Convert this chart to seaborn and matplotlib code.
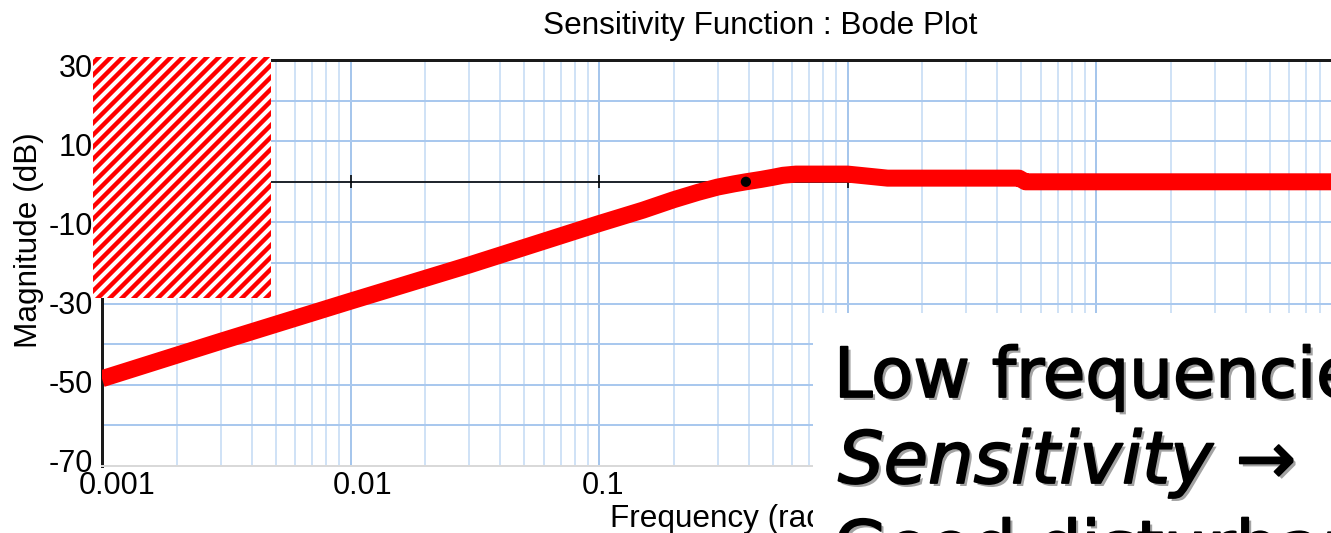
import matplotlib
matplotlib.use("Agg")
import matplotlib.pyplot as plt
import matplotlib.patheffects as pe
from matplotlib.patches import Rectangle
from matplotlib.ticker import FixedLocator, LogLocator, NullFormatter
from matplotlib.transforms import ScaledTranslation
import numpy as np
import pandas as pd
import seaborn as sns

# Sensitivity magnitude |S(jw)| in dB
freq = [0.001, 0.003, 0.01, 0.03, 0.1, 0.15, 0.2, 0.25, 0.3, 0.35, 0.39, 0.45, 0.5,
        0.55, 0.62, 1.0, 1.45, 4.9, 5.2, 100]
mag_db = [-48.5, -39.3, -29.4, -20.5, -10.3, -7.0, -4.4, -2.6, -1.3, -0.5, 0.0, 0.6, 1.1,
          1.6, 1.9, 1.9, 0.9, 0.9, 0.0, 0.0]

# crossover point (|S| = 0 dB)
cross_freq = [0.39]
cross_mag = [0.0]

x_ticks = [0.001, 0.01, 0.1, 1, 10]
x_tick_labels = ["0.001", "0.01", "0.1", "1", "10"]
y_ticks = [30, 10, -10, -30, -50, -70]
y_tick_labels = ["30", "10", "-10", "-30", "-50", "-70"]

sns.set_theme(style="white")
plt.rcParams["font.family"] = ["Liberation Sans", "DejaVu Sans"]
plt.rcParams["hatch.linewidth"] = 4.4

W, H, DPI = 1331, 533, 72
fig = plt.figure(figsize=(W / DPI, H / DPI), dpi=DPI)
fig.patch.set_facecolor("white")

# axes in pixel layout (left, top, right, bottom)
left, top, right, bottom = 102, 60, 1344.5, 466
ax = fig.add_axes([left / W, 1 - bottom / H, (right - left) / W, (bottom - top) / H])
ax.set_facecolor("white")
ax.set_xscale("log")
ax.set_xlim(0.001, 100)
ax.set_ylim(-70, 30)

# grid: decades + minor log lines, every 10 dB
ax.xaxis.set_major_locator(FixedLocator(x_ticks + [100]))
ax.xaxis.set_minor_locator(LogLocator(base=10, subs=np.arange(2, 10), numticks=20))
ax.xaxis.set_minor_formatter(NullFormatter())
ax.grid(True, which="major", axis="x", color="#a6c6ec", lw=2.0, zorder=0)
ax.grid(True, which="minor", axis="x", color="#d0e2f6", lw=2.0, zorder=0)
ax.grid(True, which="major", axis="y", color="#a9c8ee", lw=2.0, zorder=0)
ax.set_axisbelow(True)

ax.set_xticks(x_ticks)
ax.set_xticklabels(x_tick_labels)
grid_vals = list(np.arange(-70, 31, 10))
ax.set_yticks(grid_vals)
ax.set_yticklabels([y_tick_labels[y_ticks.index(v)] if v in y_ticks else "" for v in grid_vals])
ax.tick_params(axis="both", which="both", length=0, labelsize=30.5, colors="black")
ax.tick_params(axis="x", pad=5)
ax.tick_params(axis="y", pad=9)

# label nudges (points == pixels at 72 dpi)
x_shift = [15, 12, 4, 0, 0]
for lbl, dx in zip(ax.get_xticklabels(), x_shift):
    lbl.set_transform(lbl.get_transform() + ScaledTranslation(dx / DPI, 0, fig.dpi_scale_trans))
for lbl, v in zip(ax.get_yticklabels(), grid_vals):
    dy = -(6 - (30 - v) * 0.115)
    lbl.set_transform(lbl.get_transform() + ScaledTranslation(0, dy / DPI, fig.dpi_scale_trans))

ax.spines["right"].set_visible(False)
ax.spines["top"].set_color("#1a1a1a")
ax.spines["top"].set_linewidth(3)
ax.spines["left"].set_color("#1a1a1a")
ax.spines["left"].set_linewidth(3)
ax.spines["bottom"].set_color("#d9d9d9")
ax.spines["bottom"].set_linewidth(2)

# 0 dB reference axis with decade ticks
ax.axhline(0, color="black", lw=1.6, zorder=2)
ax.vlines(x_ticks, -1.6, 1.6, color="black", lw=1.6, zorder=2)

df = pd.DataFrame({"freq": freq, "mag": mag_db})
sns.lineplot(data=df, x="freq", y="mag", ax=ax, color="#ff0000", lw=17,
             solid_capstyle="butt", solid_joinstyle="round", zorder=3,
             estimator=None, sort=False)
sns.scatterplot(x=cross_freq, y=cross_mag, ax=ax, color="black", s=105,
                edgecolor="none", zorder=4)
ax.set_xlabel("")
ax.set_ylabel("")

# titles and axis labels
fig.text(760 / W, 1 - 34 / H, "Sensitivity Function : Bode Plot",
         ha="center", va="baseline", fontsize=31.5, color="black")
fig.text(29 / W, 1 - 240 / H, "Magnitude (dB)", rotation=90,
         ha="center", va="center", fontsize=31.5, color="black")
fig.text(610 / W, 1 - 527 / H, "Frequency (rad/s)",
         ha="left", va="baseline", fontsize=31.5, color="black")

# striped marker block in the upper-left corner
fig.patches.append(Rectangle((93 / W, 1 - 298 / H), (271 - 93) / W, (298 - 57) / H,
                             transform=fig.transFigure, facecolor="white",
                             edgecolor="#ff0000", hatch="//", lw=0, zorder=5))

# annotation panel
fig.patches.append(Rectangle((813 / W, 0), 1 - 813 / W, 1 - 313 / H,
                             transform=fig.transFigure, facecolor="white",
                             edgecolor="none", zorder=6))
shadow = [pe.withSimplePatchShadow(offset=(3, -3), shadow_rgbFace="0.6", alpha=0.9),
          pe.withStroke(linewidth=1.8, foreground="black")]
note_font = ["DejaVu Sans"]
fig.text(834 / W, 1 - 397 / H, "Low frequencies", ha="left", va="baseline",
         fontsize=69, family=note_font, color="black", zorder=7, path_effects=shadow)
fig.text(838 / W, 1 - 483 / H, "Sensitivity \u2192   0", ha="left", va="baseline",
         fontsize=72, style="italic", family=note_font, color="black", zorder=7,
         path_effects=shadow)
fig.text(834 / W, 1 - 570 / H, "Good disturbance rejection", ha="left", va="baseline",
         fontsize=69, family=note_font, color="black", zorder=7, path_effects=shadow)

fig.savefig("out.png", dpi=DPI, facecolor="white")
